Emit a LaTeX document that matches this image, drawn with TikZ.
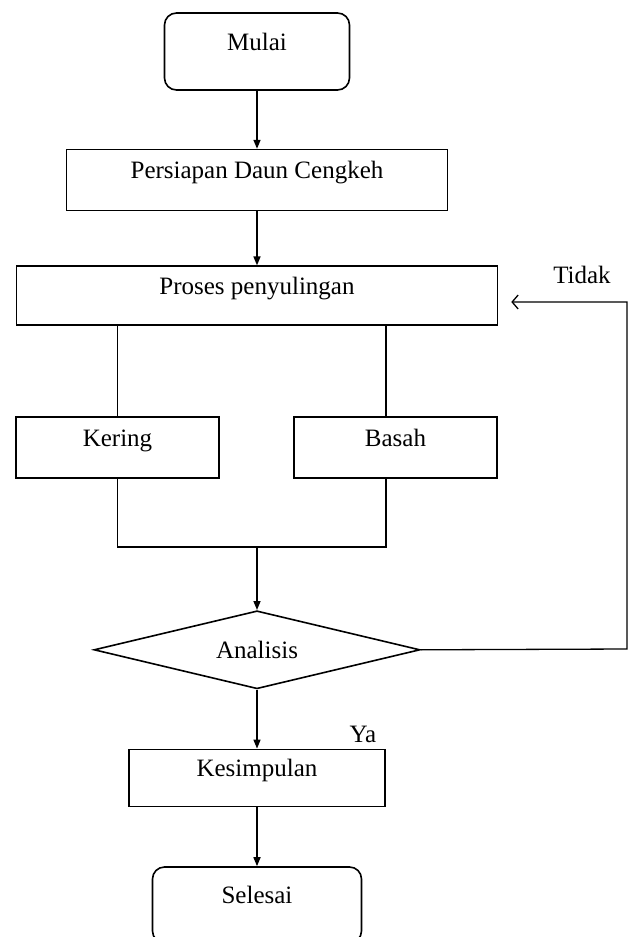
\documentclass[tikz,border=0pt]{standalone}
\usepackage{fontspec}
\setmainfont{Liberation Serif}
\usetikzlibrary{positioning,arrows.meta,shapes.geometric}
\tikzset{>={Triangle[width=7pt,length=9pt]}}
\tikzset{
	txt/.style={font=\fontsize{25}{30}\selectfont},
	box/.style={draw, line width=1.6pt, inner sep=0pt, text height=16pt, text depth=19pt, txt},
	terminal/.style={box, rounded corners=12pt},
	decision/.style={draw, diamond, aspect=4.18, minimum width=326pt, minimum height=78pt, inner sep=0pt, line width=1.6pt, txt},
	flow/.style={->, line width=1.5pt}
}

\begin{document}
\begin{tikzpicture}[x=1pt,y=-1pt]
		\clip (0,0) rectangle (635,937);
		\node(mulai) [terminal, minimum width=185pt, minimum height=77pt] at (257,51.5) {Mulai};
		\node(persiapan) [box, minimum width=381pt, minimum height=61pt, below=58pt of mulai] {Persiapan Daun Cengkeh};
		\node(proses) [box, minimum width=481pt, minimum height=59pt, below=54pt of persiapan] {Proses penyulingan};
		
		\node(kering) [box, minimum width=203pt, minimum height=61pt] at (117.5,447.5) {Kering};
		\node(basah) [box, minimum width=203pt, minimum height=61pt] at (395.5,447.5) {Basah};
		
		\coordinate(join) at (257,546);
		\node(analisis) [decision, below=64pt of join] {Analisis};
		\node(kesimpulan) [box, minimum width=256pt, minimum height=57pt, below=59pt of analisis] {Kesimpulan};
		\node(selesai) [terminal, minimum width=209pt, minimum height=76pt, below=59pt of kesimpulan] {Selesai};
		
		\draw[flow] (mulai) -- (persiapan);
		\draw[flow] (persiapan) -- (proses);
		\draw[line width=1.5pt] (kering.north) -- (kering.north |- proses.south);
		\draw[line width=1.5pt] ([xshift=-9.5pt]basah.north) -- ([xshift=-9.5pt]basah.north |- proses.south);
		\draw[line width=1.5pt] (kering.south) -- ++(0,68) -| ([xshift=-9.5pt]basah.south);
		\draw[flow] (join) -- (analisis);
		\draw[flow] (analisis) -- (kesimpulan);
		\draw[flow] (kesimpulan) -- (selesai);
		
		% loop back
		\coordinate(c1) at (627,649);
		\coordinate(c2) at (627,302);
		\draw[line width=1.3pt, -{Straight Barb[length=6pt,width=14pt]}] (analisis.east) -- (c1) -- (c2) -- ([xshift=13pt]proses.east |- c2);
		\node(tidak) [txt] at (582,275) {Tidak};
		\node(ya) [txt] at (363,734) {Ya};
	\end{tikzpicture}
\end{document}
